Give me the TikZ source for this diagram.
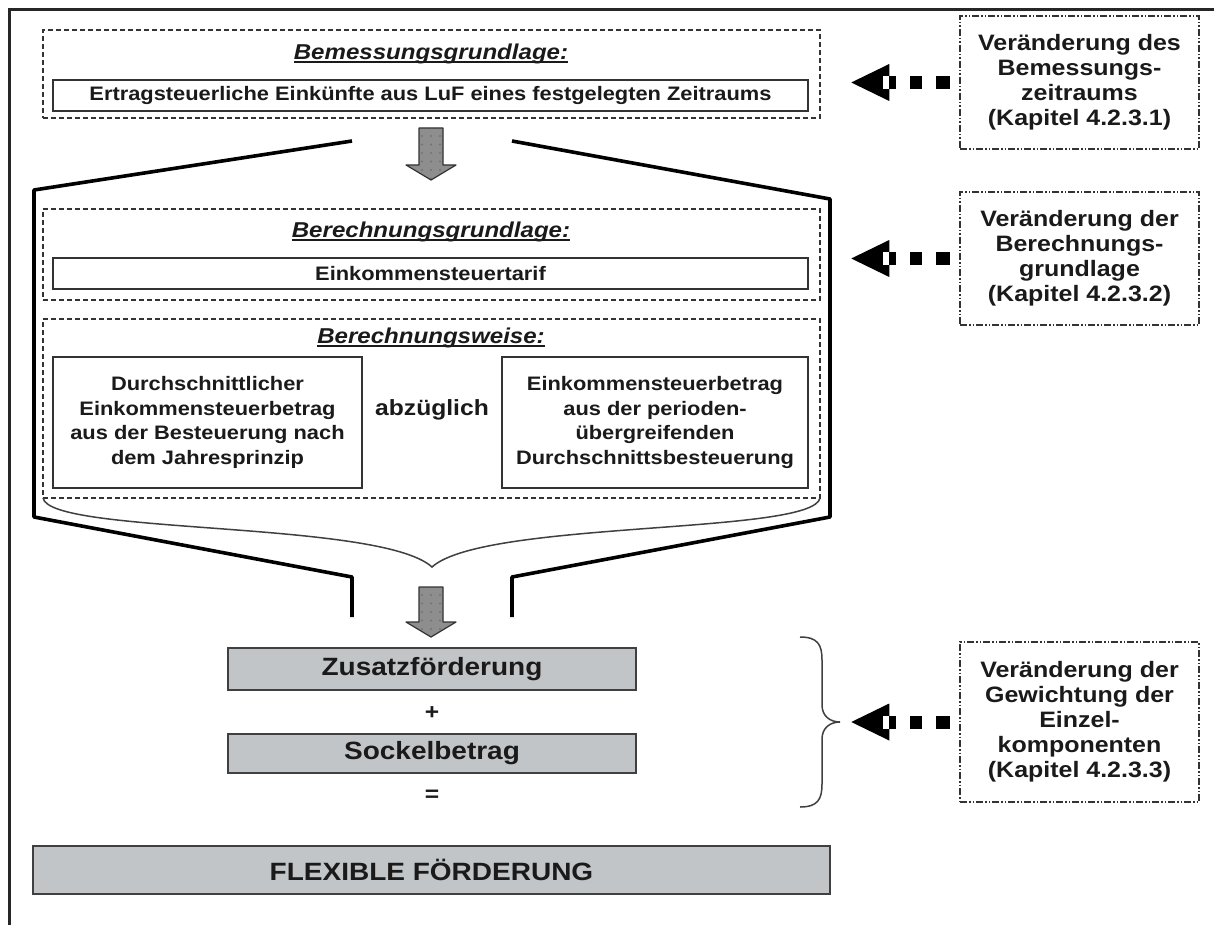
\documentclass[tikz,border=0pt]{standalone}
\usepackage{fontspec}
\setmainfont{Liberation Sans}[FakeStretch=1.12]
\usetikzlibrary{calc}

\definecolor{ink}{HTML}{1A1A1A}
\definecolor{boxgrey}{HTML}{C2C5C8}
\definecolor{arrowgrey}{HTML}{8E8E8E}

% underlined heading with a heavier rule than \underline gives
\newcommand\headline[1]{\sbox0{#1}\rlap{\rule[-3.5pt]{\wd0}{1.8pt}}\usebox0}

\tikzset{
  dbox/.style={draw=black!80, line width=1.6pt, dash pattern=on 5pt off 3pt,
    inner sep=0pt},
  ibox/.style={draw=black!80, line width=2pt, fill=white, inner sep=0pt,
    text=ink, align=center, font=\bfseries\fontsize{19.5}{24.5}\selectfont},
  gbox/.style={draw=black!75, line width=2pt, fill=boxgrey, inner sep=0pt,
    text=ink, font=\bfseries\fontsize{25}{28}\selectfont},
  rbox/.style={draw=black!80, line width=1.5pt,
    dash pattern=on 7pt off 2pt on 1.5pt off 2pt on 1.5pt off 2pt,
    inner sep=0pt, text=ink, align=center,
    font=\bfseries\fontsize{22.3}{25}\selectfont},
  title/.style={text=ink, inner sep=0pt,
    font=\bfseries\itshape\fontsize{21.5}{24}\selectfont},
  plain/.style={text=ink, inner sep=0pt, font=\bfseries\fontsize{22}{25}\selectfont},
  funnel/.style={draw=black, line width=3.6pt, line join=round},
  thinbrace/.style={draw=black!75, line width=1.5pt},
}

% grey dotted down arrow: centre x, top of shaft, tip
\newcommand\dotarrow[3]{%
  \def\arrowpath{(#1-12,#2) -- (#1+12,#2) -- (#1+12,#3-15) -- (#1+25,#3-15)
    -- (#1,#3) -- (#1-25,#3-15) -- (#1-12,#3-15) -- cycle}%
  \fill[arrowgrey] \arrowpath;
  \begin{scope}
    \clip \arrowpath;
    \foreach \dx in {-9,0,9}
      \foreach \k in {0,...,5}
        \fill[black!55] (#1+\dx,#2+8+8.5*\k) circle (1.1);
  \end{scope}
  \draw[black!80, line width=1.2pt, line join=round] \arrowpath;
}

% black side arrow with square dashes, leaving a node's west side
\newcommand\sidearrow[2]{%
  \begin{scope}[shift={(#1.west)}]
    \fill[black] (-23,-6.5) rectangle (-9,6.5);
    \fill[black] (-49,-6.5) rectangle (-37,6.5);
    \fill[black] (-70,-6.5) rectangle (-63,6.5);
    \coordinate (#2) at (-108,0);
    \fill[black] (#2) -- (-70,-18.5) -- (-70,18.5) -- cycle;
    \fill[white] (-76,-6.5) rectangle (-70,6.5);
  \end{scope}
}

\begin{document}
\begin{tikzpicture}[x=1pt,y=-1pt]
\useasboundingbox (0,0) rectangle (1214,925);
\fill[white] (0,0) rectangle (1214,925);

% outer frame (open to the right and bottom)
\draw[black!85, line width=2.7pt] (9.5,925) -- (9.5,9.5) -- (1214,9.5);

% ---- Bemessungsgrundlage ----
\node[dbox, minimum width=777pt, minimum height=88pt] (bem) at (431.5,74) {};
\node[title] (bemT) at (431,54) {\headline{Bemessungsgrundlage:}};
\node[ibox, minimum width=755pt, minimum height=31pt] (bemI) at (430.5,95.5)
  {Ertragsteuerliche Einkünfte aus LuF eines festgelegten Zeitraums};

\dotarrow{431}{128}{180}

% ---- funnel ----
\coordinate (fl1) at (352,141);
\coordinate (fl2) at (34,190);
\coordinate (fl3) at (34,517);
\coordinate (fl4) at (352,577);
\coordinate (fl5) at (352,617);
\coordinate (fr1) at (512,141);
\coordinate (fr2) at (830,199);
\coordinate (fr3) at (830,517);
\coordinate (fr4) at (512,577);
\coordinate (fr5) at (512,617);
\draw[funnel] (fl1) -- (fl2) -- (fl3) -- (fl4) -- (fl5);
\draw[funnel] (fr1) -- (fr2) -- (fr3) -- (fr4) -- (fr5);

% ---- Berechnungsgrundlage ----
\node[dbox, minimum width=777pt, minimum height=91pt] (ber) at (431.5,254.5) {};
\node[title] (berT) at (431,232) {\headline{Berechnungsgrundlage:}};
\node[ibox, minimum width=755pt, minimum height=31pt] (berI) at (430.5,273.5)
  {Einkommensteuertarif};

% ---- Berechnungsweise ----
\node[dbox, minimum width=777pt, minimum height=179pt] (wei) at (431.5,408.5) {};
\node[title] (weiT) at (431,338) {\headline{Berechnungsweise:}};
\node[ibox, minimum width=309pt, minimum height=131pt] (weiL) at (207.5,422.5)
  {Durchschnittlicher\\Einkommensteuerbetrag\\aus der Besteuerung nach\\dem Jahresprinzip};
\node[ibox, minimum width=306pt, minimum height=131pt] (weiR) at (655,422.5)
  {Einkommensteuerbetrag\\aus der perioden-\\übergreifenden\\Durchschnittsbesteuerung};
\node[plain] (minus) at (432,410) {abzüglich};

% brace gathering the calculation
\coordinate (brL) at (43,498);
\coordinate (brR) at (820,498);
\coordinate (brT) at (432,567);
\draw[thinbrace] (brL) .. controls (50,535) and (380,520) .. (brT)
  .. controls (484,520) and (813,535) .. (brR);

\dotarrow{431}{587}{637}

% ---- result ----
\node[gbox, minimum width=408pt, minimum height=42pt] (zus) at (432,669)
  {Zusatzförderung};
\node[plain] (plus) at (432,713) {+};
\node[gbox, minimum width=408pt, minimum height=39pt] (sock) at (432,753.5)
  {Sockelbetrag};
\node[plain] (eq) at (432,796) {=};
\node[gbox, minimum width=797pt, minimum height=48pt] (flex) at (431.5,869.5)
  {FLEXIBLE FÖRDERUNG};

% right brace round the two components
\coordinate (rbT) at (800,637);
\coordinate (rbM) at (840,722);
\coordinate (rbB) at (800,807);
\draw[thinbrace] (rbT) .. controls (818,637) and (822,645) .. (822,660)
  -- (822,705) .. controls (822,716) and (830,722) .. (rbM)
  .. controls (830,722) and (822,728) .. (822,739)
  -- (822,784) .. controls (822,799) and (818,807) .. (rbB);

% ---- variations ----
\node[rbox, minimum width=239pt, minimum height=133pt] (var1) at (1079.5,82.5)
  {Veränderung des\\Bemessungs-\\zeitraums\\(Kapitel 4.2.3.1)};
\node[rbox, minimum width=239pt, minimum height=133pt] (var2) at (1079.5,258.5)
  {Veränderung der\\Berechnungs-\\grundlage\\(Kapitel 4.2.3.2)};
\node[rbox, minimum width=239pt, minimum height=160pt] (var3) at (1079.5,722)
  {Veränderung der\\Gewichtung der\\Einzel-\\komponenten\\(Kapitel 4.2.3.3)};

\sidearrow{var1}{tip1}
\sidearrow{var2}{tip2}
\sidearrow{var3}{tip3}
\end{tikzpicture}
\end{document}
